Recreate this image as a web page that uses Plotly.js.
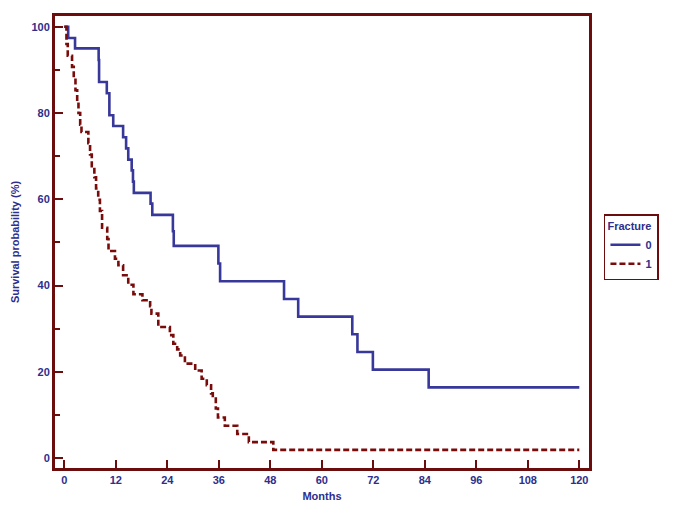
<!DOCTYPE html>
<html>
<head>
<meta charset="utf-8">
<script src="https://cdn.plot.ly/plotly-3.0.1.min.js"></script>
<style>
html,body{margin:0;padding:0;background:#fff;}
#chart{width:685px;height:513px;}
</style>
</head>
<body>
<div id="chart"></div>
<script>
// Kaplan-Meier step data (months, survival %)
const groupNames = ["0", "1"];
const months0 = [0, 0.9, 2.5, 8.0, 8.1, 9.9, 10.5, 11.4, 13.7, 14.4, 14.9, 15.7, 16.0, 16.2, 20.1, 20.5, 25.3, 25.5, 35.9, 36.3, 51.2, 54.5, 67.1, 68.3, 71.9, 84.9, 120];
const surv0   = [100, 97.4, 95.0, 92.3, 87.2, 84.6, 79.5, 77.0, 74.4, 71.8, 69.2, 66.7, 64.1, 61.5, 59.0, 56.4, 52.6, 49.2, 45.1, 41.0, 36.9, 32.8, 28.7, 24.6, 20.5, 16.4, 16.4];

const months1 = [0, 0.5, 0.8, 1.8, 2.2, 2.6, 3.0, 3.3, 3.7, 4.0, 5.6, 6.0, 6.4, 7.0, 7.4, 7.9, 8.3, 8.8, 10.0, 10.3, 11.8, 12.6, 13.7, 14.9, 16.1, 18.2, 20.0, 20.3, 21.9, 24.6, 25.4, 26.3, 27.0, 28.1, 30.5, 32.0, 33.2, 34.2, 34.6, 35.3, 35.8, 37.4, 40.3, 43.0, 48.7, 120];
const surv1   = [100, 96.0, 93.3, 90.7, 88.0, 85.3, 82.7, 80.0, 77.3, 75.6, 73.0, 70.4, 67.7, 65.1, 62.5, 59.9, 57.3, 53.4, 50.8, 48.0, 46.2, 44.7, 42.4, 40.2, 38.0, 36.6, 35.2, 33.5, 30.4, 28.5, 26.5, 25.2, 23.8, 21.9, 20.3, 18.4, 16.9, 15.0, 13.8, 11.5, 9.4, 7.5, 5.6, 3.7, 1.9, 1.9];

const xTicks = [0, 12, 24, 36, 48, 60, 72, 84, 96, 108, 120];
const yTicks = [0, 20, 40, 60, 80, 100];

const navy = "#2e2e8c";
const frame = "#6b0d0d";
const blue = "#38389a";
const red = "#7a0b0b";
const fam = "Liberation Sans, Arial, sans-serif";

const traces = [
  {x: months0, y: surv0, name: groupNames[0], mode: "lines", line: {shape: "hv", color: blue, width: 2.6}},
  {x: months1, y: surv1, name: groupNames[1], mode: "lines", line: {shape: "hv", color: red, width: 2.6, dash: "6px,3px"}}
];

const layout = {
  width: 685, height: 513,
  margin: {l: 55, r: 96, t: 16, b: 45},
  paper_bgcolor: "#fff", plot_bgcolor: "#fff",
  font: {family: fam, color: navy, size: 11, weight: "bold"},
  showlegend: true,
  legend: {
    x: 1.028, y: 0.561, xanchor: "left", yanchor: "top",
    bordercolor: frame, borderwidth: 1.5, bgcolor: "#fff",
    title: {text: "Fracture", font: {family: fam, size: 11, color: navy, weight: "bold"}},
    font: {family: fam, size: 11, color: navy, weight: "bold"},
    itemwidth: 30, tracegroupgap: 0
  },
  xaxis: {
    range: [-2.17, 122.26], tickvals: xTicks, ticktext: xTicks.map(String),
    ticks: "inside", ticklen: 8, tickwidth: 2, tickcolor: frame,
    showline: true, linecolor: frame, linewidth: 3, mirror: true,
    showgrid: false, zeroline: false,
    tickfont: {family: fam, size: 11, color: navy, weight: "bold"},
    title: {text: "Months", font: {family: fam, size: 11, color: navy, weight: "bold"}, standoff: 8}
  },
  yaxis: {
    range: [-2.3, 102.5], tickvals: yTicks, ticktext: yTicks.map(String),
    ticks: "inside", ticklen: 8, tickwidth: 2, tickcolor: frame,
    minor: {tickvals: [10, 30, 50, 70, 90], ticks: "inside", ticklen: 5, tickwidth: 2, tickcolor: frame},
    showline: true, linecolor: frame, linewidth: 3, mirror: true,
    showgrid: false, zeroline: false,
    tickfont: {family: fam, size: 11, color: navy, weight: "bold"},
    title: {text: "Survival probability (%)", font: {family: fam, size: 11, color: navy, weight: "bold"}, standoff: 10}
  }
};

Plotly.newPlot("chart", traces, layout, {displayModeBar: false, staticPlot: true});
</script>
</body>
</html>
